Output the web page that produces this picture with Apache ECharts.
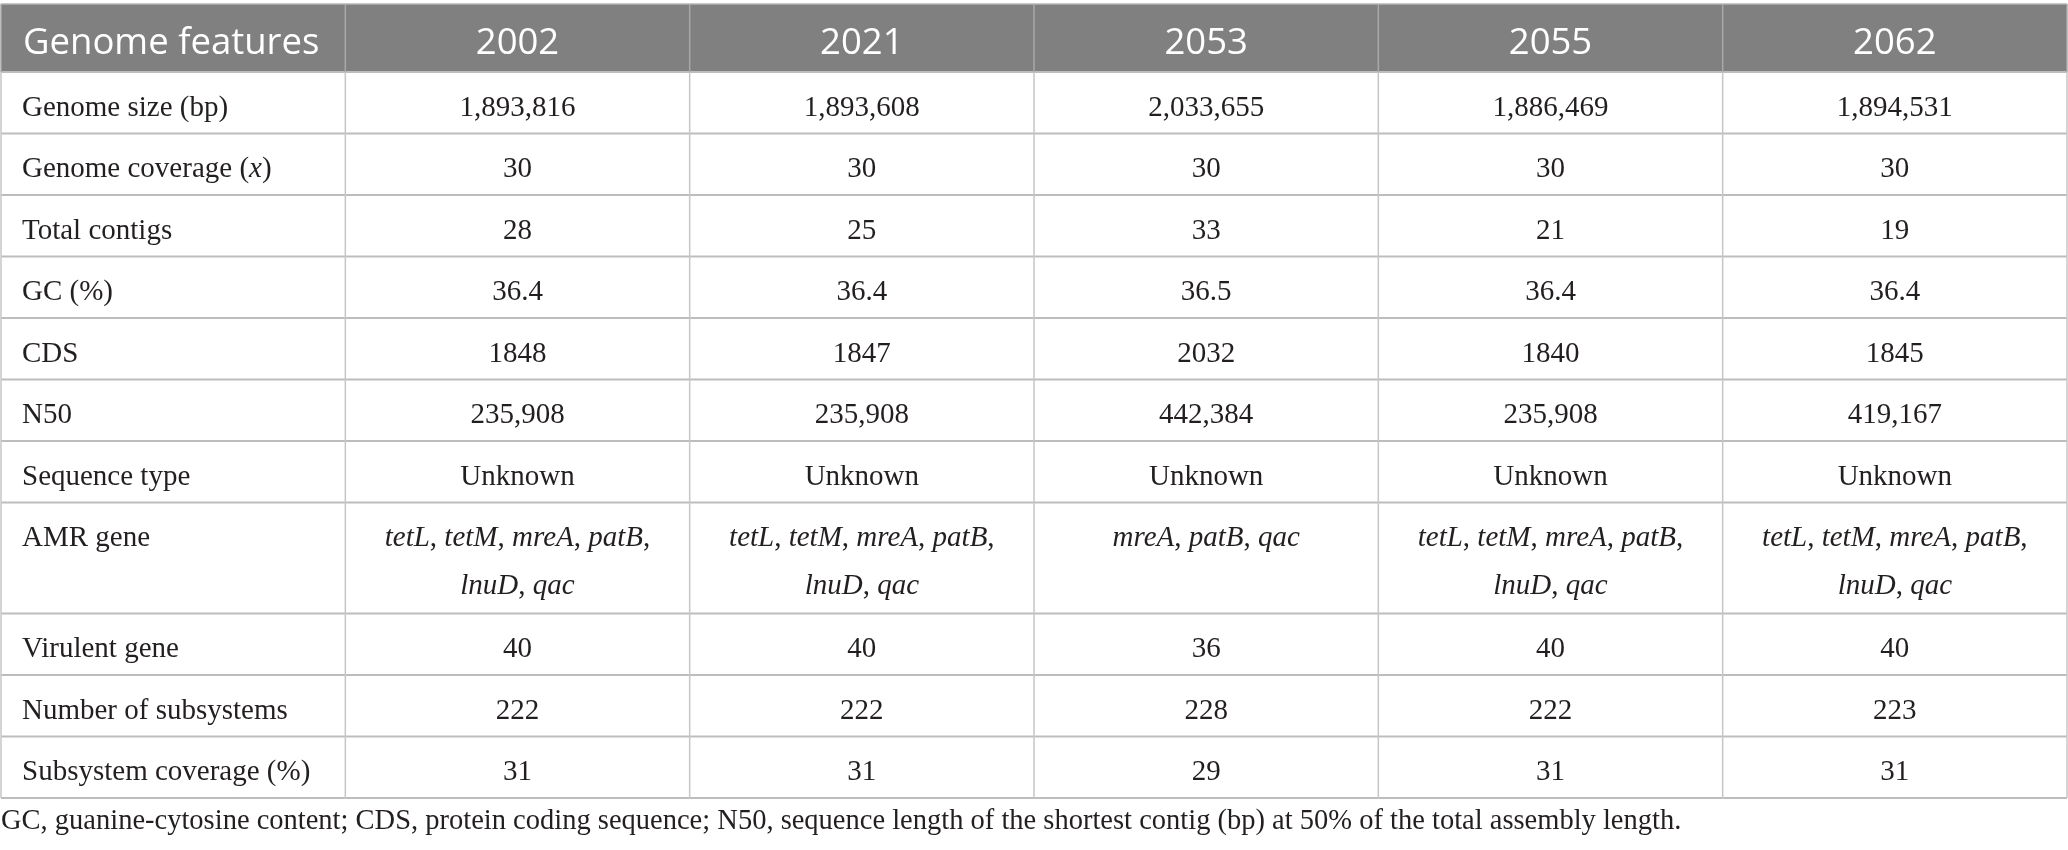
<!DOCTYPE html>
<html><head><meta charset="utf-8">
<script src="https://cdn.jsdelivr.net/npm/echarts@6/dist/echarts.min.js"></script>
<style>html,body{margin:0;padding:0;background:#fff}#c{width:2068px;height:850px}</style>
</head><body><div id="c"></div>
<script>
// ---------- data ----------
const headerLabel = 'Genome features';
const isolates = ['2002', '2021', '2053', '2055', '2062'];
const featureNames = ['Genome size (bp)', 'Genome coverage (x)', 'Total contigs', 'GC (%)', 'CDS', 'N50',
  'Sequence type', 'AMR gene', 'Virulent gene', 'Number of subsystems', 'Subsystem coverage (%)'];
const genomeSize = [1893816, 1893608, 2033655, 1886469, 1894531];
const genomeCoverage = [30, 30, 30, 30, 30];
const totalContigs = [28, 25, 33, 21, 19];
const gcPercent = ['36.4', '36.4', '36.5', '36.4', '36.4'];
const cds = [1848, 1847, 2032, 1840, 1845];
const n50 = [235908, 235908, 442384, 235908, 419167];
const sequenceType = ['Unknown', 'Unknown', 'Unknown', 'Unknown', 'Unknown'];
const amrGenes = [
  ['tetL', 'tetM', 'mreA', 'patB', 'lnuD', 'qac'],
  ['tetL', 'tetM', 'mreA', 'patB', 'lnuD', 'qac'],
  ['mreA', 'patB', 'qac'],
  ['tetL', 'tetM', 'mreA', 'patB', 'lnuD', 'qac'],
  ['tetL', 'tetM', 'mreA', 'patB', 'lnuD', 'qac']
];
const virulentGenes = [40, 40, 36, 40, 40];
const subsystems = [222, 222, 228, 222, 223];
const subsystemCoverage = [31, 31, 29, 31, 31];
const footnote = 'GC, guanine-cytosine content; CDS, protein coding sequence; N50, sequence length of the shortest contig (bp) at 50% of the total assembly length.';

// ---------- formatting ----------
const fmtComma = v => Number(v).toLocaleString('en-US');
const fmtGenes = list => {
  const t = list.map(g => '{i|' + g + '}');
  return t.length > 4 ? t.slice(0, 4).join(', ') + ',\n' + t.slice(4).join(', ') : t.join(', ');
};
const fmtFeature = s => s.replace('(x)', '({i|x})');

const bodyValues = [
  genomeSize.map(fmtComma), genomeCoverage, totalContigs, gcPercent, cds, n50.map(fmtComma),
  sequenceType, amrGenes.map(fmtGenes), virulentGenes, subsystems, subsystemCoverage
];
const tableRows = [[headerLabel].concat(isolates)].concat(
  featureNames.map((f, i) => [fmtFeature(f)].concat(bodyValues[i].map(String)))
);

// row heights in "line units"
const HEADER_UNITS = 1.107, EXTRA_LINE_UNITS = 0.808;
const rowUnits = tableRows.map((r, i) => i === 0 ? HEADER_UNITS :
  1 + EXTRA_LINE_UNITS * (Math.max.apply(null, r.map(s => s.split('\n').length)) - 1));
const rowStart = [];
rowUnits.reduce((acc, u, i) => { rowStart[i] = acc; return acc + u; }, 0);
const totalUnits = rowStart[rowStart.length - 1] + rowUnits[rowUnits.length - 1];

const cells = [];
tableRows.forEach((r, ri) => r.forEach((_, ci) => cells.push([ci, ri])));

const SERIF = '"Liberation Serif", "DejaVu Serif", serif';
const SANS = '"Open Sans", "Noto Sans", sans-serif';
const BODY_SIZE = 29;
const LINE_H = 48;
const TEXT_COLOR = '#231f20';

function renderItem(params, api) {
  const c = api.value(0), r = api.value(1);
  const p0 = api.coord([c, rowStart[r]]);
  const p1 = api.coord([c + 1, rowStart[r] + rowUnits[r]]);
  const x = p0[0], y = p0[1], w = p1[0] - p0[0], h = p1[1] - p0[1];
  const isHead = r === 0;
  const children = [];
  children.push({ type: 'rect', z2: 0, shape: { x: x, y: y, width: w, height: h },
    style: { fill: isHead ? '#7f807f' : '#ffffff' } });
  children.push({ type: 'line', z2: 10, shape: { x1: x, y1: y + h, x2: x + w, y2: y + h },
    style: { stroke: '#bdbdbd', lineWidth: 2 } });
  children.push({ type: 'line', z2: 11, shape: { x1: x + w, y1: y, x2: x + w, y2: y + h },
    style: { stroke: isHead ? '#a9a9a9' : '#c6c6c6', lineWidth: 1.5 } });
  if (c === 0) {
    children.push({ type: 'line', z2: 11, shape: { x1: x, y1: y, x2: x, y2: y + h },
      style: { stroke: isHead ? '#a9a9a9' : '#c6c6c6', lineWidth: 1.5 } });
  }
  if (isHead) {
    children.push({ type: 'line', z2: 10, shape: { x1: x, y1: y, x2: x + w, y2: y },
      style: { stroke: '#b5b5b5', lineWidth: 1.5 } });
  }
  const text = tableRows[r][c];
  const tx = c === 0 ? x + (isHead ? 22 : 21) : x + w / 2;
  if (isHead) {
    children.push({ type: 'text', z2: 20, style: {
      text: text, x: tx, y: y + h / 2 + 5.5, align: c === 0 ? 'left' : 'center', verticalAlign: 'middle',
      fontSize: 36.5, fontFamily: SANS, fill: '#ffffff' } });
  } else {
    children.push({ type: 'text', z2: 20, style: {
      text: text, x: tx, y: y + 12, align: c === 0 ? 'left' : 'center', verticalAlign: 'top',
      fontSize: BODY_SIZE, fontFamily: SERIF, fill: TEXT_COLOR, lineHeight: LINE_H,
      rich: { i: { fontStyle: 'italic', fontSize: BODY_SIZE, fontFamily: SERIF, fill: TEXT_COLOR, lineHeight: LINE_H } } } });
  }
  return { type: 'group', children: children };
}

const chart = echarts.init(document.getElementById('c'), null, { renderer: 'canvas' });
chart.setOption({
  animation: false,
  backgroundColor: '#ffffff',
  title: { text: footnote, left: 1, top: 808, padding: 0,
    textStyle: { fontFamily: SERIF, fontSize: 28.5, fontWeight: 'normal', color: TEXT_COLOR, lineHeight: 28 } },
  grid: { left: 1, right: 1, top: 4, bottom: 52 },
  xAxis: { type: 'value', min: 0, max: 6, show: false },
  yAxis: { type: 'value', min: 0, max: totalUnits, inverse: true, show: false },
  series: [{ type: 'custom', renderItem: renderItem, data: cells, clip: false, silent: true }]
});
</script></body></html>
